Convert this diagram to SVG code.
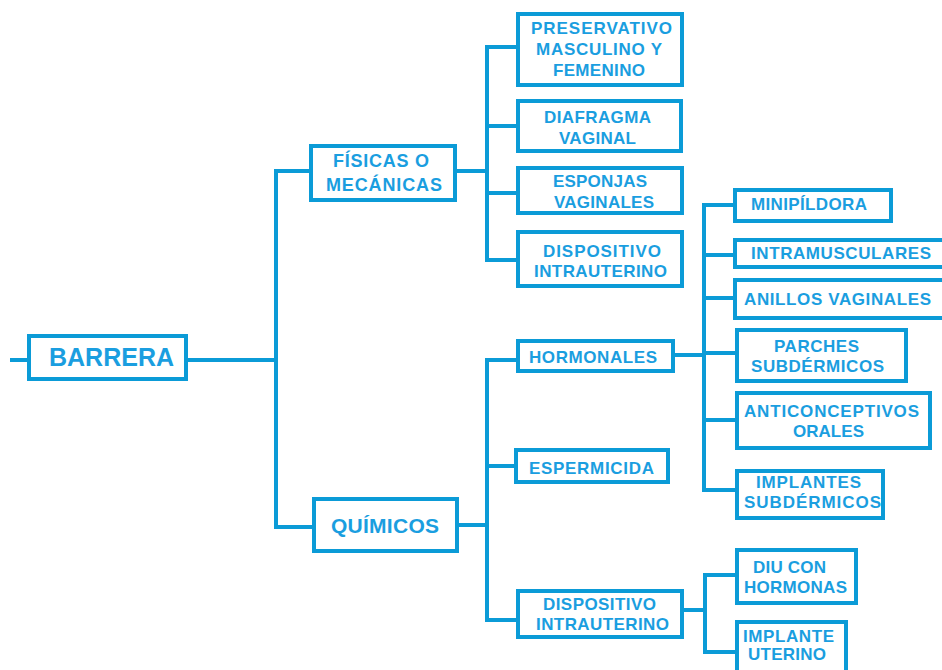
<svg xmlns="http://www.w3.org/2000/svg" width="942" height="670" viewBox="0 0 942 670">
<style>
.box{fill:#fff;stroke:#0b9bd7;stroke-width:4}
.ln{fill:none;stroke:#0b9bd7;stroke-width:4;stroke-linejoin:miter;stroke-linecap:butt}
text{font-family:"Liberation Sans",Arial,sans-serif;font-weight:bold;fill:#1a9ee0;font-size:17px}
.big{font-size:25px}
.mid{font-size:21px}
.m17{font-size:18px}
</style>
<rect width="942" height="670" fill="#fff"/>
<g id="connectors">
<path class="ln" d="M10,360 H29"/>
<path class="ln" d="M186,360 H276 M276,169 V529 M274,171 H311 M274,527 H314"/>
<path class="ln" d="M455,171 H487 M487,45 V262 M485,47 H518 M487,126 H518 M487,193 H518 M485,260 H518"/>
<path class="ln" d="M457,525 H487 M487,358 V622 M485,360 H518 M487,466 H516 M485,620 H518"/>
<path class="ln" d="M673,355 H704 M704,203 V492 M702,205 H735 M704,255 H735 M704,298 H735 M704,353 H737 M704,420 H737 M702,490 H737"/>
<path class="ln" d="M682,610 H705 M705,573 V654 M703,575 H737 M703,652 H737"/>
</g>
<g id="barrera"><rect class="box" x="29" y="336" width="157" height="43"/><text class="big" x="49" y="366" textLength="125">BARRERA</text></g>
<g id="fisicas"><rect class="box" x="311" y="146" width="144" height="54"/><text class="m17" x="333" y="167" textLength="96">FÍSICAS O</text><text class="m17" x="326" y="191" textLength="116">MECÁNICAS</text></g>
<g id="preservativo"><rect class="box" x="518" y="14" width="164" height="71"/><text x="531" y="34" textLength="141">PRESERVATIVO</text><text x="536" y="55" textLength="126">MASCULINO Y</text><text x="553" y="76" textLength="92">FEMENINO</text></g>
<g id="diafragma"><rect class="box" x="518" y="101" width="163" height="50"/><text x="544" y="123" textLength="107">DIAFRAGMA</text><text x="559" y="144" textLength="77">VAGINAL</text></g>
<g id="esponjas"><rect class="box" x="518" y="168" width="164" height="45"/><text x="553" y="187" textLength="94">ESPONJAS</text><text x="554" y="208" textLength="100">VAGINALES</text></g>
<g id="diu1"><rect class="box" x="518" y="232" width="164" height="54"/><text x="543" y="257" textLength="118">DISPOSITIVO</text><text x="534" y="277" textLength="133">INTRAUTERINO</text></g>
<g id="minipildora"><rect class="box" x="735" y="190" width="156" height="31"/><text x="751" y="210" textLength="116">MINIPÍLDORA</text></g>
<g id="intramusculares"><rect class="box" x="735" y="240" width="215" height="27"/><text x="751" y="259" textLength="180">INTRAMUSCULARES</text></g>
<g id="anillos"><rect class="box" x="735" y="280" width="215" height="38"/><text x="744" y="305" textLength="187">ANILLOS VAGINALES</text></g>
<g id="parches"><rect class="box" x="737" y="330" width="169" height="51"/><text x="774" y="352" textLength="85">PARCHES</text><text x="751" y="372" textLength="133">SUBDÉRMICOS</text></g>
<g id="anticonceptivos"><rect class="box" x="737" y="393" width="193" height="55"/><text x="744" y="417" textLength="175">ANTICONCEPTIVOS</text><text x="793" y="437" textLength="71">ORALES</text></g>
<g id="implantes"><rect class="box" x="737" y="471" width="146" height="47"/><text x="756" y="488" textLength="105">IMPLANTES</text><text x="744" y="508" textLength="137">SUBDÉRMICOS</text></g>
<g id="hormonales"><rect class="box" x="518" y="341" width="155" height="30"/><text x="529" y="363" textLength="128">HORMONALES</text></g>
<g id="espermicida"><rect class="box" x="516" y="450" width="152" height="32"/><text x="529" y="474" textLength="125">ESPERMICIDA</text></g>
<g id="quimicos"><rect class="box" x="314" y="499" width="143" height="52"/><text class="mid" x="331" y="533" textLength="108">QUÍMICOS</text></g>
<g id="diu2"><rect class="box" x="518" y="591" width="164" height="46"/><text x="543" y="610" textLength="113">DISPOSITIVO</text><text x="536" y="630" textLength="133">INTRAUTERINO</text></g>
<g id="diuhormonas"><rect class="box" x="737" y="550" width="119" height="53"/><text x="753" y="573" textLength="73">DIU CON</text><text x="744" y="593" textLength="103">HORMONAS</text></g>
<g id="implanteuterino"><rect class="box" x="737" y="622" width="109" height="60"/><text x="743" y="642" textLength="91">IMPLANTE</text><text x="748" y="660" textLength="78">UTERINO</text></g>
</svg>
